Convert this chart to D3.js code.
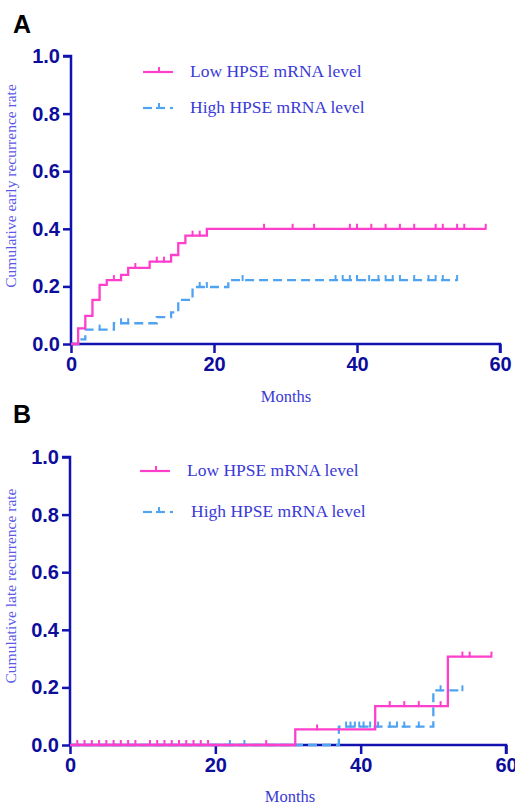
<!DOCTYPE html>
<html>
<head>
<meta charset="utf-8">
<script src="https://cdn.jsdelivr.net/npm/d3@7"></script>
<style>
  body { margin: 0; background: #fff; }
  svg { display: block; }
</style>
</head>
<body>
<svg id="chart" width="515" height="809"></svg>
<script>
// dados (meses, taxa acumulada)
const lowA = [[0, 0], [1, 0.054], [2, 0.098], [3, 0.153], [4, 0.205], [5, 0.222], [7, 0.24], [8, 0.264], [11, 0.286], [14, 0.309], [15, 0.35], [16, 0.376], [19, 0.4], [58, 0.4]];
const lowACensor = [6, 9, 12, 13, 17, 18, 27, 31, 34, 39, 40, 42, 44, 46, 48, 51, 52, 54, 55, 58];
const highA = [[0, 0], [1, 0.016], [2, 0.05], [6, 0.072], [12, 0.093], [14, 0.11], [15, 0.153], [17, 0.198], [22, 0.222], [54, 0.222]];
const highACensor = [4, 7, 8, 18, 19, 24, 37, 38, 39, 40, 41.7, 43, 44, 45, 46, 48, 50, 51, 52, 54];

const lowB = [[0, 0], [31, 0.054], [42, 0.135], [52, 0.307], [58, 0.307]];
const lowBCensor = [1, 2, 3, 4, 5, 6, 7, 8, 9, 11, 12, 13, 14, 15, 16, 17, 18, 19, 27, 34, 44, 46, 48, 51, 54, 55, 58];
const highB = [[0, 0], [37, 0.064], [50, 0.19], [54, 0.19]];
const highBCensor = [22, 24, 38, 38.6, 39.2, 39.8, 40.4, 41.3, 42.4, 44, 45, 46, 48, 51, 54];

const xTicks = [0, 20, 40, 60];
const yTicks = [0, 0.2, 0.4, 0.6, 0.8, 1.0];
const legendLabels = ["Low HPSE mRNA level", "High HPSE mRNA level"];

const pink = "#ff3fcc";
const blue = "#4fa3f0";
const axisColor = "#1212b0";

const svg = d3.select("#chart");

// valor da curva num certo mês (degrau)
function valueAt(steps, m) {
    let v = 0;
    steps.forEach(d => { if (d[0] <= m) v = d[1]; });
    return v;
}

function drawPanel(opt) {
    const g = svg.append("g");
    const x = d3.scaleLinear().domain([0, 60]).range(opt.xRange);
    const y = d3.scaleLinear().domain([0, 1]).range(opt.yRange);

    // letra do painel
    g.append("text")
        .attr("x", 13).attr("y", opt.letterY)
        .attr("font-family", "Liberation Sans, Arial, sans-serif")
        .attr("font-weight", "bold").attr("font-size", 25)
        .text(opt.letter);

    // eixos
    const yAxis = g.append("g")
        .attr("transform", `translate(${opt.xRange[0]},0)`)
        .call(d3.axisLeft(y).tickValues(yTicks).tickFormat(d3.format(".1f")).tickSize(8).tickPadding(3));
    const xAxis = g.append("g")
        .attr("transform", `translate(0,${opt.yRange[0]})`)
        .call(d3.axisBottom(x).tickValues(xTicks).tickSize(9).tickPadding(4));
    [yAxis, xAxis].forEach(a => {
        a.select(".domain").attr("stroke", axisColor).attr("stroke-width", 2.5);
        a.selectAll(".tick line").attr("stroke", axisColor).attr("stroke-width", 2.5);
        a.selectAll(".tick text")
            .attr("fill", "#0d0d9c")
            .attr("font-family", "Liberation Sans, Arial, sans-serif")
            .attr("font-weight", "bold").attr("font-size", 20);
    });
    yAxis.select(".domain").attr("d", `M-8,${opt.yRange[1]}H0V${opt.yRange[0] + 1}`);
    xAxis.select(".domain").attr("d", `M${opt.xRange[0]},0H${opt.xRange[1]}V9`);

    // títulos
    g.append("text")
        .attr("transform", `translate(16,${opt.yTitleY}) rotate(-90)`)
        .attr("text-anchor", "middle")
        .attr("font-family", "Liberation Serif, serif")
        .attr("font-size", 15.5)
        .attr("fill", "#5a5ae6")
        .text(opt.yTitle);
    g.append("text")
        .attr("x", opt.monthsX).attr("y", opt.monthsY)
        .attr("text-anchor", "middle")
        .attr("font-family", "Liberation Serif, serif")
        .attr("font-size", 16.5)
        .attr("fill", "#3a3ad6")
        .text("Months");

    const line = d3.line().x(d => x(d[0])).y(d => y(d[1])).curve(d3.curveStepAfter);

    const series = [
        { steps: opt.high, censor: opt.highCensor, color: blue, dash: "9,5" },
        { steps: opt.low, censor: opt.lowCensor, color: pink, dash: null }
    ];
    series.forEach(s => {
        g.append("path")
            .datum(s.steps)
            .attr("d", line)
            .attr("fill", "none")
            .attr("stroke", s.color)
            .attr("stroke-width", 2.3)
            .attr("stroke-dasharray", s.dash);
        g.selectAll(null)
            .data(s.censor)
            .enter().append("line")
            .attr("x1", d => x(d)).attr("x2", d => x(d))
            .attr("y1", d => y(valueAt(s.steps, d)) + 1)
            .attr("y2", d => y(valueAt(s.steps, d)) - 5)
            .attr("stroke", s.color)
            .attr("stroke-width", 2);
    });

    // legenda
    const leg = g.append("g");
    legendLabels.forEach((label, i) => {
        const ly = opt.legendY[i];
        const color = i === 0 ? pink : blue;
        const lx = opt.legendX[i];
        if (i === 0) {
            leg.append("line").attr("x1", lx).attr("x2", lx + 30).attr("y1", ly).attr("y2", ly)
                .attr("stroke", color).attr("stroke-width", 2.2);
        } else {
            [[lx, lx + 9], [lx + 13, lx + 22], [lx + 27, lx + 30]].forEach(seg => {
                leg.append("line").attr("x1", seg[0]).attr("x2", seg[1]).attr("y1", ly).attr("y2", ly)
                    .attr("stroke", color).attr("stroke-width", 2.2);
            });
        }
        leg.append("line").attr("x1", lx + 16).attr("x2", lx + 16).attr("y1", ly).attr("y2", ly - 5)
            .attr("stroke", color).attr("stroke-width", 2);
        leg.append("text")
            .attr("x", opt.legendTextX[i]).attr("y", ly + 5)
            .attr("font-family", "Liberation Serif, serif")
            .attr("font-size", 17.5)
            .attr("fill", "#3a3ad6")
            .text(label);
    });
}

drawPanel({
    letter: "A", letterY: 33,
    xRange: [71, 500], yRange: [344, 56],
    low: lowA, lowCensor: lowACensor, high: highA, highCensor: highACensor,
    yTitle: "Cumulative early recurrence rate", yTitleY: 186,
    monthsX: 286, monthsY: 402,
    legendX: [143, 143], legendTextX: [190, 190], legendY: [72, 108]
});

drawPanel({
    letter: "B", letterY: 423,
    xRange: [70, 506], yRange: [745, 457],
    low: lowB, lowCensor: lowBCensor, high: highB, highCensor: highBCensor,
    yTitle: "Cumulative late recurrence rate", yTitleY: 586,
    monthsX: 290, monthsY: 802,
    legendX: [140, 143], legendTextX: [187, 191], legendY: [471, 512]
});
</script>
</body>
</html>
